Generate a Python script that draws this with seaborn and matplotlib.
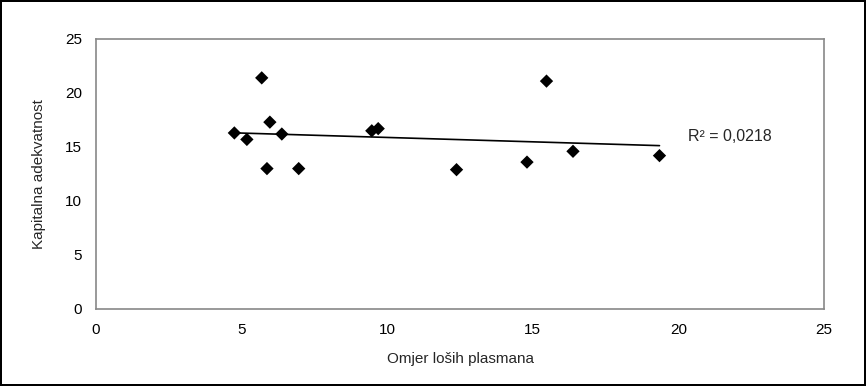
import matplotlib
matplotlib.use("Agg")
import matplotlib.pyplot as plt
import seaborn as sns
import pandas as pd
import numpy as np

omjer = [4.75, 5.18, 5.69, 5.97, 5.87, 6.38, 6.96, 9.47, 9.69, 12.38, 15.47, 14.80, 16.38, 19.35]
kapital = [16.3, 15.7, 21.4, 17.3, 13.0, 16.2, 13.0, 16.5, 16.7, 12.9, 21.1, 13.6, 14.6, 14.2]
x_ticks = [0, 5, 10, 15, 20, 25]
y_ticks = [0, 5, 10, 15, 20, 25]
r2_label = "R² = 0,0218"
x_label = "Omjer loših plasmana"
y_label = "Kapitalna adekvatnost"

df = pd.DataFrame({"x": omjer, "y": kapital})

sns.set_style("white")
plt.rcParams['font.family'] = ['Liberation Sans', 'DejaVu Sans']

fig = plt.figure(figsize=(8.66, 3.86), dpi=100)
fig.patch.set_edgecolor("black")
fig.patch.set_linewidth(1.5)
ax = fig.add_axes([0.1109, 0.1995, 0.8406, 0.6995])

sns.regplot(data=df, x="x", y="y", ax=ax, ci=None, truncate=True,
            marker="D", color="black",
            scatter_kws={"s": 46, "edgecolors": "none", "alpha": 1.0},
            line_kws={"linewidth": 1.2, "color": "black"})

ax.set_xlim(0, 25)
ax.set_ylim(0, 25)
ax.set_xticks(x_ticks)
ax.set_yticks(y_ticks)
ax.tick_params(axis="both", labelsize=11, colors="black", direction="out",
               length=4, width=0.8, pad=6)
ax.tick_params(axis="both", color="#888888")
for s in ax.spines.values():
    s.set_color("#888888")
    s.set_linewidth(1.2)
ax.set_xlabel(x_label, fontsize=11, labelpad=11)
ax.set_ylabel(y_label, fontsize=11, labelpad=14)
ax.text(20.33, 15.95, r2_label, fontsize=11.5, va="center", ha="left")

fig.savefig("out.png", dpi=100)
